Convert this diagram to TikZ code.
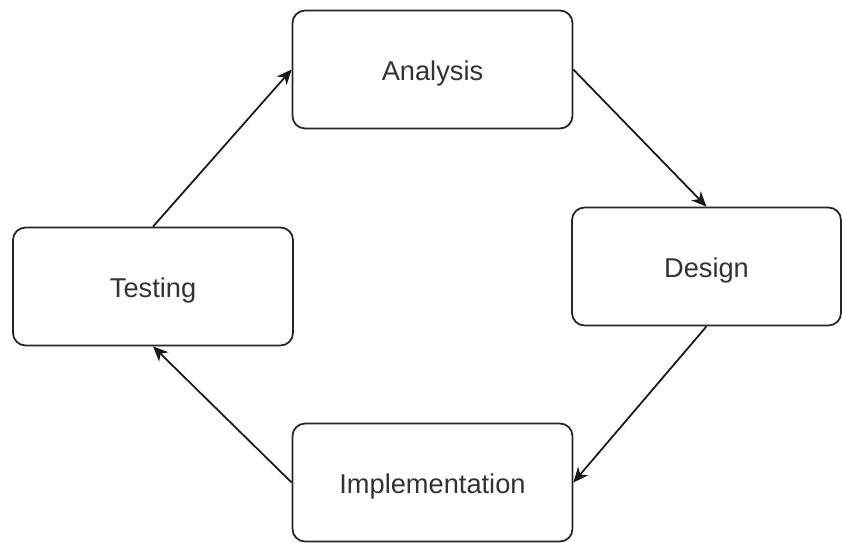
\documentclass[tikz,border=0pt]{standalone}
\usepackage{fontspec}
\setmainfont{Liberation Sans}
\usepackage{tikz}
\usetikzlibrary{arrows.meta}

\begin{document}
\begin{tikzpicture}[x=0.02cm,y=-0.02cm,
  stage/.style={draw=black!85,line width=1pt,rounded corners=0.25cm,
    minimum width=5.6cm,minimum height=2.36cm,inner sep=0pt,
    font=\fontsize{15.5}{18}\selectfont,text=black!80},
  flow/.style={-{Stealth[length=3mm,width=2.6mm,inset=0.9mm]},line width=1pt,draw=black!90}]
\useasboundingbox (0,0) rectangle (842,542);
% the four stages of the cycle
\node[stage] (ana) at (432.5,69.5) {\raisebox{-2.5pt}[\height][\depth]{Analysis}};
\node[stage,minimum width=5.38cm] (des) at (706.5,266.5) {\raisebox{-2.5pt}[\height][\depth]{Design}};
\node[stage] (imp) at (432.5,482.5) {\raisebox{-2.5pt}[\height][\depth]{Implementation}};
\node[stage] (tes) at (153,286.5) {\raisebox{-2.5pt}[\height][\depth]{Testing}};
% arrows round the cycle
\draw[flow] (ana.east) -- (des.north);
\draw[flow] (des.south) -- (imp.east);
\draw[flow] (imp.west) -- (tes.south);
\draw[flow] (tes.north) -- (ana.west);
\end{tikzpicture}
\end{document}
